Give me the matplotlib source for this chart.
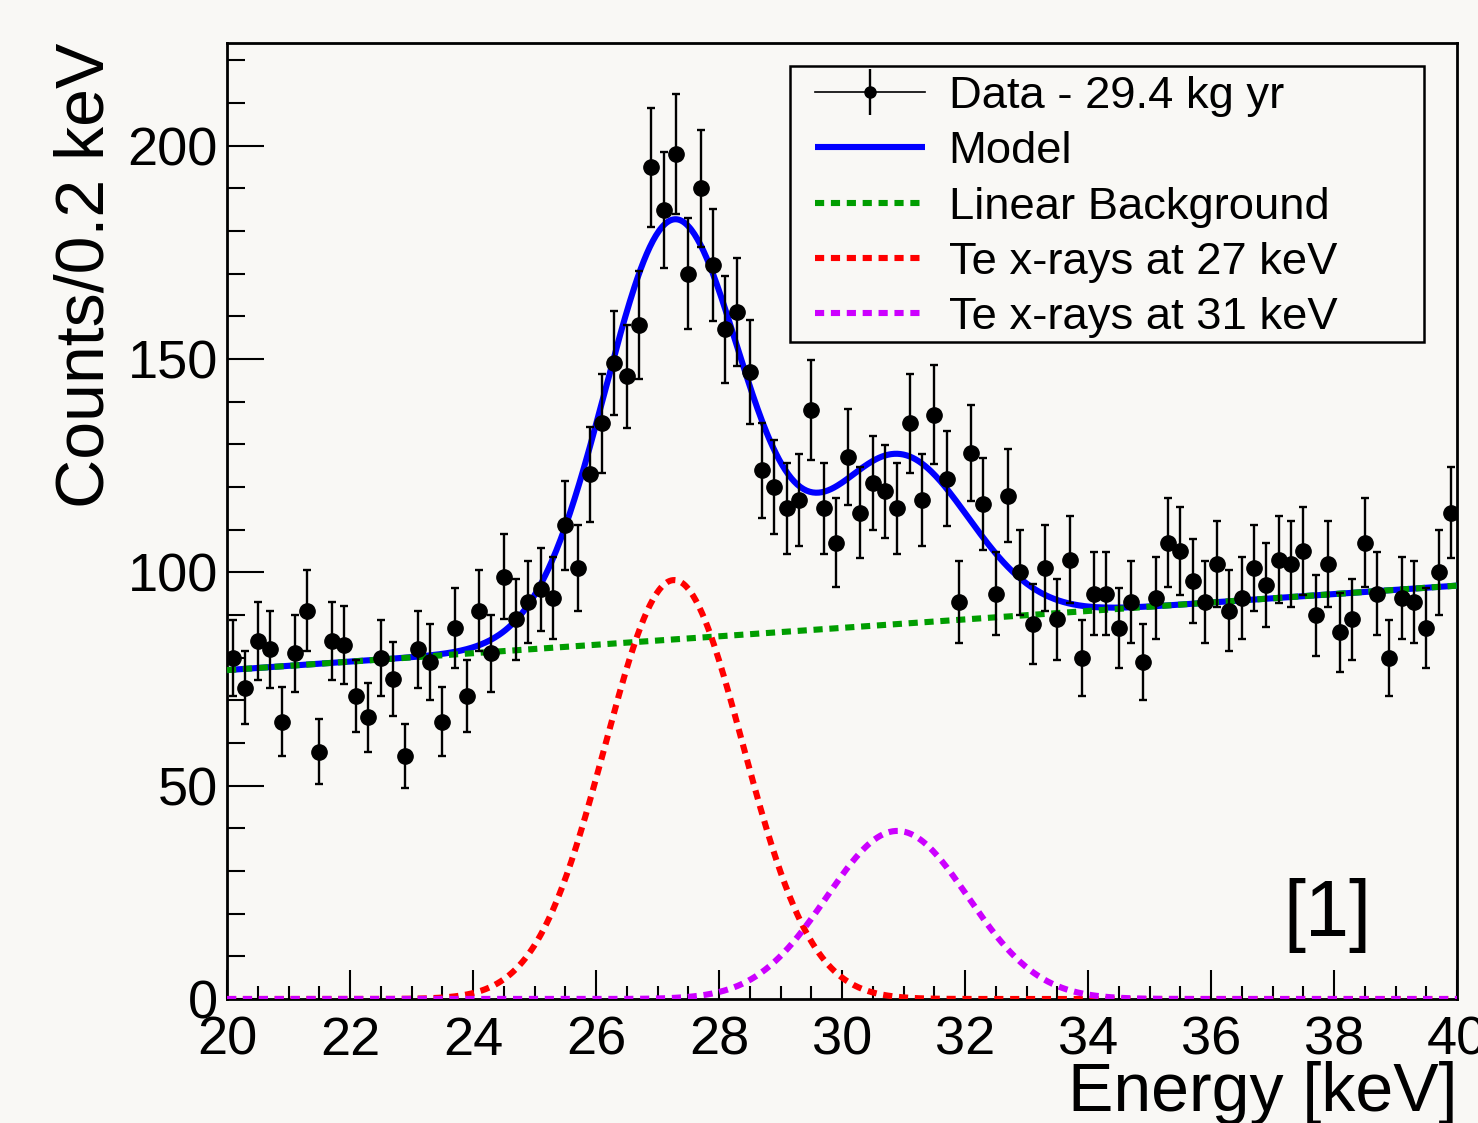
import numpy as np
import matplotlib
matplotlib.use("Agg")
import matplotlib.pyplot as plt
from matplotlib.ticker import MultipleLocator
from matplotlib.lines import Line2D
from matplotlib.patches import Rectangle
from matplotlib.legend_handler import HandlerTuple

plt.rcParams['font.family'] = ['Liberation Sans', 'DejaVu Sans']

# ---------------- data ----------------
bin_edges = np.linspace(20.0, 40.0, 101)          # 0.2 keV bins
counts = [80, 73, 84, 82, 65, 81, 91, 58, 84, 83,
          71, 66, 80, 75, 57, 82, 79, 65, 87, 71,
          91, 81, 99, 89, 93, 96, 94, 111, 101, 123,
          135, 149, 146, 158, 195, 185, 198, 170, 190, 172,
          157, 161, 147, 124, 120, 115, 117, 138, 115, 107,
          127, 114, 121, 119, 115, 135, 117, 137, 122, 93,
          128, 116, 95, 118, 100, 88, 101, 89, 103, 80,
          95, 95, 87, 93, 79, 94, 107, 105, 98, 93,
          102, 91, 94, 101, 97, 103, 102, 105, 90, 102,
          86, 89, 107, 95, 80, 94, 93, 87, 100, 114]

# fitted model parameters
bg_at_20 = 77.1
bg_at_40 = 96.9
peak27_amp, peak27_mean, peak27_sigma = 98.2, 27.27, 1.12
peak31_amp, peak31_mean, peak31_sigma = 39.4, 30.90, 1.15

legend_labels = ["Data - 29.4 kg yr", "Model", "Linear Background",
                 "Te x-rays at 27 keV", "Te x-rays at 31 keV"]
x_label = "Energy [keV]"
y_label = "Counts/0.2 keV"
tag_text = "[1]"

# ---------------- derived ----------------
centers = 0.5 * (bin_edges[:-1] + bin_edges[1:])
counts = np.array(counts, dtype=float)
errors = np.sqrt(counts)

xf = np.linspace(20.0, 40.0, 801)
bg = bg_at_20 + (bg_at_40 - bg_at_20) * (xf - 20.0) / 20.0
g27 = peak27_amp * np.exp(-0.5 * ((xf - peak27_mean) / peak27_sigma) ** 2)
g31 = peak31_amp * np.exp(-0.5 * ((xf - peak31_mean) / peak31_sigma) ** 2)
model = bg + g27 + g31

# ---------------- figure ----------------
BG = '#f9f8f5'
W, H = 1478, 1123
fig = plt.figure(figsize=(W / 100, H / 100), dpi=100, facecolor=BG)
ax = fig.add_axes([227 / W, 1 - 999 / H, 1230 / W, 956 / H], facecolor=BG)

dot = (0, (1.5, 1.1))
lw = 4.4
model_line, = ax.plot(xf, model, color='#0000ff', lw=lw, zorder=3,
                      solid_capstyle='butt')
bg_line, = ax.plot(xf, bg, color='#009d00', lw=lw, ls=dot, zorder=3.1)
g27_line, = ax.plot(xf, g27, color='#ff0000', lw=lw, ls=dot, zorder=3.1)
g31_line, = ax.plot(xf, g31, color='#cc00ff', lw=lw, ls=dot, zorder=3.1)

ax.errorbar(centers, counts, yerr=errors, fmt='o', color='black',
            ms=11, elinewidth=1.7, capsize=2.6, capthick=1.7, zorder=4)

# legend proxy for the data entry (horizontal line + marker + vertical bar)
data_line = Line2D([], [], color='black', lw=1.2, marker='o', ms=8)
data_bar = Line2D([], [], ls='none', color='black', marker='|', ms=33, mew=1.7)

ax.set_xlim(20, 40)
ax.set_ylim(0, 224.1)

ax.xaxis.set_major_locator(MultipleLocator(2))
ax.xaxis.set_minor_locator(MultipleLocator(0.5))
ax.yaxis.set_major_locator(MultipleLocator(50))
ax.yaxis.set_minor_locator(MultipleLocator(10))

ax.tick_params(which='both', direction='in', top=False, right=False,
               width=1.5, color='black')
ax.tick_params(axis='x', which='major', length=21, pad=12, labelsize=39)
ax.tick_params(axis='x', which='minor', length=9.4)
ax.tick_params(axis='y', which='major', length=26.6, pad=6.5, labelsize=39)
ax.tick_params(axis='y', which='minor', length=13)

for s in ax.spines.values():
    s.set_linewidth(2.0)
    s.set_color('black')

ax.set_xlabel(x_label, fontsize=49, loc='right')
ax.xaxis.set_label_coords(1.0, -0.065)
ax.set_ylabel(y_label, fontsize=49, loc='top')
ax.yaxis.set_label_coords(-0.089, 1.0)

ax.text(0.895, 0.066, tag_text, transform=ax.transAxes, fontsize=57,
        ha='center', va='baseline')

# legend box
ax.add_patch(Rectangle(((790 - 227) / 1230, (999 - 342) / 956),
                       (1424 - 790) / 1230, (342 - 66) / 956,
                       transform=ax.transAxes, fill=True, facecolor=BG,
                       edgecolor='black', lw=1.8, zorder=5))

leg = ax.legend([(data_line, data_bar), model_line, bg_line, g27_line, g31_line],
                legend_labels, loc='upper left',
                bbox_to_anchor=((815 - 227) / 1230, (999 - 76) / 956),
                frameon=False, fontsize=32.7, borderpad=0, borderaxespad=0,
                handlelength=2.43, handletextpad=0.51, labelspacing=0.315,
                handler_map={tuple: HandlerTuple(ndivide=1)})
leg.set_zorder(6)

fig.savefig('out.png', dpi=100, facecolor=BG)
